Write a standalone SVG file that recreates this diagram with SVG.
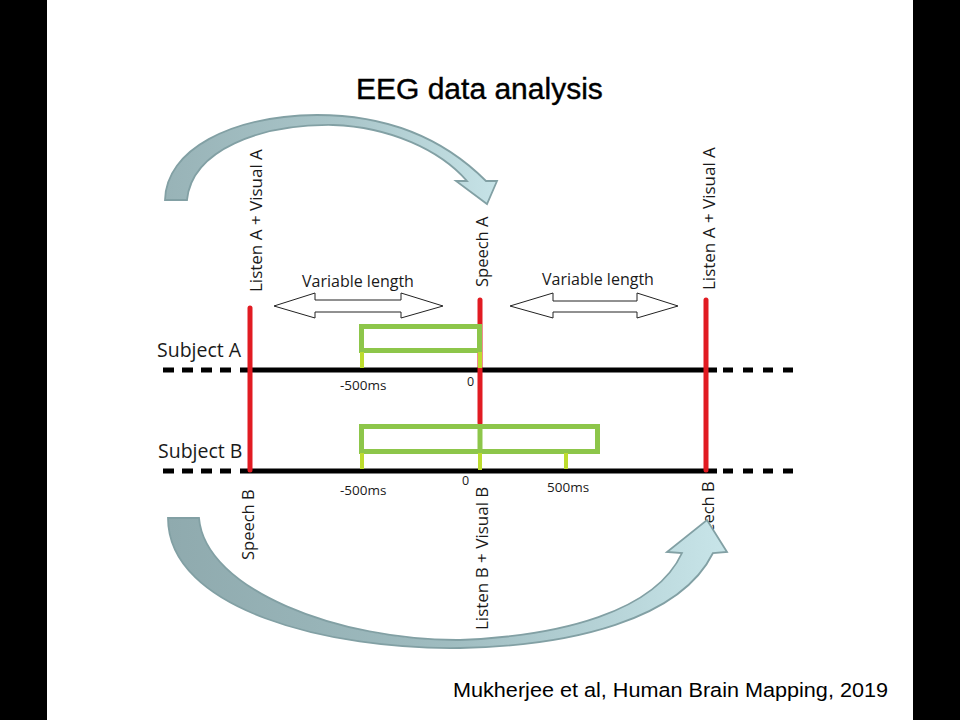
<svg xmlns="http://www.w3.org/2000/svg" width="960" height="720" viewBox="0 0 960 720">
<style>
.os{font-family:"Open Sans","DejaVu Sans",sans-serif;fill:#1a1a1a}
.ar{font-family:"Liberation Sans",Arial,sans-serif;fill:#000}
.axis{stroke:#000;stroke-width:5;fill:none}
.red{stroke:#e11b22;stroke-width:5;stroke-linecap:round;fill:none}
.box{stroke:#8dc64a;stroke-width:5;fill:none}
.tick{stroke:#bcdc2e;stroke-width:4;fill:none}
.dbl{fill:#fff;stroke:#222;stroke-width:1}
.big{stroke:#82a0a4;stroke-width:1.8}
</style>
<defs>
<linearGradient id="gTop" x1="0" y1="0" x2="1" y2="0">
<stop offset="0" stop-color="#98b3b7"/>
<stop offset="0.55" stop-color="#aac6ca"/>
<stop offset="1" stop-color="#c6e3e7"/>
</linearGradient>
<linearGradient id="gBot" x1="0" y1="0" x2="1" y2="0">
<stop offset="0" stop-color="#8faaae"/>
<stop offset="0.5" stop-color="#9fbcc0"/>
<stop offset="1" stop-color="#c8e5e9"/>
</linearGradient>
</defs>
<rect x="0" y="0" width="960" height="720" fill="#fff"/>
<rect x="0" y="0" width="47" height="720" fill="#000"/>
<rect x="913" y="0" width="47" height="720" fill="#000"/>

<g id="title"><text class="ar" x="356" y="99" font-size="30" stroke="#000" stroke-width="0.4">EEG data analysis</text></g>

<g id="timeline-A">
<line class="axis" x1="163" y1="370" x2="232" y2="370" stroke-dasharray="11 8"/>
<line class="axis" x1="240" y1="370" x2="717" y2="370"/>
<line class="axis" x1="723" y1="370" x2="795" y2="370" stroke-dasharray="10 10"/>
<text class="os" x="157" y="357" font-size="19.5">Subject A</text>
</g>
<g id="timeline-B">
<line class="axis" x1="163" y1="471" x2="232" y2="471" stroke-dasharray="11 8"/>
<line class="axis" x1="240" y1="471" x2="717" y2="471"/>
<line class="axis" x1="723" y1="471" x2="795" y2="471" stroke-dasharray="10 10"/>
<text class="os" x="158" y="458" font-size="19.5">Subject B</text>
</g>

<g id="event-left">
<line class="red" x1="250" y1="308" x2="250" y2="470"/>
<text class="os" font-size="17" transform="translate(262,292) rotate(-90)">Listen A + Visual A</text>
<text class="os" font-size="16.5" transform="translate(254,560) rotate(-90)">Speech B</text>
</g>
<g id="event-middle">
<line class="red" x1="480" y1="300" x2="480" y2="423"/>
<text class="os" font-size="16.5" transform="translate(488,287) rotate(-90)">Speech A</text>
<text class="os" font-size="17" transform="translate(488,630) rotate(-90)">Listen B + Visual B</text>
</g>
<g id="event-right">
<line class="red" x1="706" y1="300" x2="706" y2="470"/>
<text class="os" font-size="17" transform="translate(715,290) rotate(-90)">Listen A + Visual A</text>
<text class="os" font-size="16.5" transform="translate(714,552) rotate(-90)">Speech B</text>
</g>

<g id="window-A">
<rect class="box" x="361.5" y="326.5" width="118" height="24"/>
<line class="tick" x1="362" y1="352" x2="362" y2="368"/>
<line class="tick" x1="480" y1="352" x2="480" y2="368"/>
<text class="os" x="340" y="390" font-size="13.5">-500ms</text>
<text class="os" x="467" y="386" font-size="12.5">0</text>
</g>
<g id="window-B">
<rect class="box" x="361.5" y="426.5" width="236" height="25"/>
<line class="box" x1="480" y1="426" x2="480" y2="453"/>
<line class="tick" x1="362" y1="453" x2="362" y2="469"/>
<line class="tick" x1="480" y1="453" x2="480" y2="470"/>
<line class="tick" x1="566" y1="453" x2="566" y2="469"/>
<text class="os" x="340" y="495" font-size="13.5">-500ms</text>
<text class="os" x="462" y="485" font-size="12.5">0</text>
<text class="os" x="547" y="492" font-size="13.5">500ms</text>
</g>

<g id="variable-left">
<path class="dbl" d="M274,306 L315,293 L315,300 L401,300 L401,293 L443,306 L401,318 L401,312 L315,312 L315,318 Z"/>
<text class="os" x="302" y="287" font-size="16">Variable length</text>
</g>
<g id="variable-right">
<path class="dbl" d="M510,306 L553,293 L553,301 L637,301 L637,293 L678,306 L637,318 L637,312 L553,312 L553,318 Z"/>
<text class="os" x="542" y="285" font-size="16">Variable length</text>
</g>

<g id="connectors">
<path class="big" fill="url(#gTop)" d="M165,200 C166,150 230,116 317,115 C390,115 445,140 486,181 L497,181 L487,204 L456,181 L467,181 C440,150 390,127 333,125 C260,124 192,150 187,200 Z"/>
<path class="big" fill="url(#gBot)" d="M168,518 C168,610 330,650 460,648 C570,646 680,620 713,553 L727,552 L707,520 L667,552 L682,553 C655,612 560,636 460,640 C340,641 205,590 199,518 Z"/>
</g>

<g id="citation"><text class="ar" x="453" y="697" font-size="20.5" textLength="435" lengthAdjust="spacingAndGlyphs">Mukherjee et al, Human Brain Mapping, 2019</text></g>
</svg>
